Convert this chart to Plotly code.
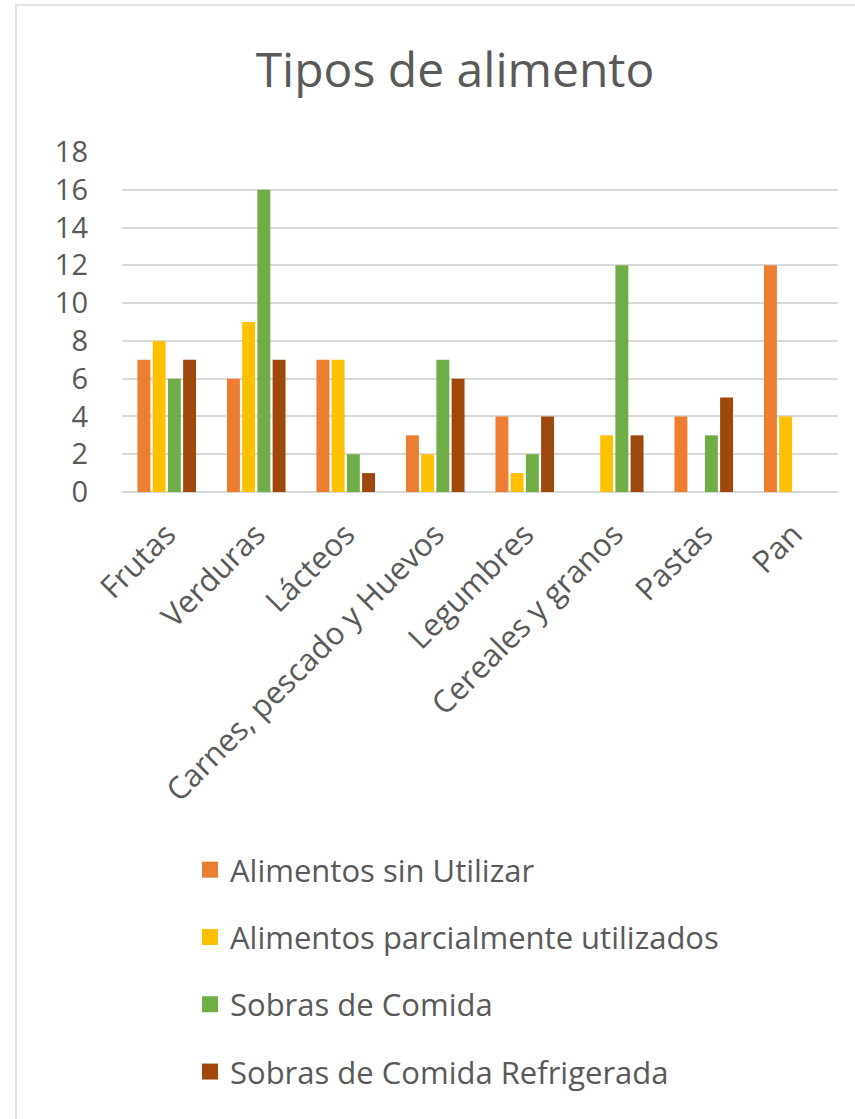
import plotly.graph_objects as go

categorias = ["Frutas", "Verduras", "Lácteos", "Carnes, pescado y Huevos",
              "Legumbres", "Cereales y granos", "Pastas", "Pan"]

series = ["Alimentos sin Utilizar", "Alimentos parcialmente utilizados",
          "Sobras de Comida", "Sobras de Comida Refrigerada"]

sin_utilizar = [7, 6, 7, 3, 4, None, 4, 12]
parcialmente = [8, 9, 7, 2, 1, 3, None, 4]
sobras = [6, 16, 2, 7, 2, 12, 3, None]
sobras_refrigeradas = [7, 7, 1, 6, 4, 3, 5, None]

colores = ["#ED7D31", "#FFC000", "#70AD47", "#9E480E"]
valores = [sin_utilizar, parcialmente, sobras, sobras_refrigeradas]

W, H = 855, 1119
L, R, T, B = 122, 17, 152, 627
FONT = "Open Sans"
GRIS = "#595959"

fig = go.Figure()

for nombre, vals, color in zip(series, valores, colores):
    fig.add_trace(go.Bar(
        x=categorias, y=vals, name=nombre,
        marker=dict(color=color, line=dict(width=0)),
        showlegend=False,
    ))

# legend entries with larger square swatches
for nombre, color in zip(series, colores):
    fig.add_trace(go.Scatter(
        x=[None], y=[None], name=nombre, mode="markers",
        marker=dict(symbol="square", size=16, color=color),
        legendgroup=nombre,
    ))

# outer chart frame
pw, ph = W - L - R, H - T - B
def px_x(v):
    return (v - L) / pw
def px_y(v):
    return (H - B - v) / ph

fig.add_shape(type="rect", xref="paper", yref="paper",
              x0=px_x(16), x1=px_x(W + 10), y0=px_y(5), y1=px_y(H + 10),
              line=dict(color="#D9D9D9", width=1.5), fillcolor="rgba(0,0,0,0)",
              layer="below")

fig.update_layout(
    width=W, height=H,
    margin=dict(l=L, r=R, t=T, b=B, autoexpand=False),
    paper_bgcolor="white", plot_bgcolor="white",
    barmode="group", bargap=0.32, bargroupgap=0.15,
    font=dict(family=FONT, color=GRIS),
    title=dict(text="Tipos de alimento", x=455 / W, xanchor="center",
               xref="container", y=1 - 70 / H, yanchor="middle", yref="container",
               font=dict(size=48, color=GRIS, family=FONT)),
    xaxis=dict(tickangle=-45, tickfont=dict(size=31, color=GRIS),
               showgrid=False, showline=False, ticks="", zeroline=False,
               ticklabelstandoff=17),
    yaxis=dict(range=[0, 18], dtick=2, tickfont=dict(size=29, color=GRIS),
               showgrid=True, gridcolor="#D9D9D9", gridwidth=1.5,
               zeroline=True, zerolinecolor="#D9D9D9", zerolinewidth=1.5,
               showline=False, ticks="", ticklabelstandoff=33),
    legend=dict(x=190 / W, xref="container", xanchor="left",
                y=1 - 843 / H, yref="container", yanchor="top",
                font=dict(size=31, color=GRIS, family=FONT),
                traceorder="grouped", tracegroupgap=24,
                itemsizing="trace", bgcolor="rgba(0,0,0,0)"),
)

fig.write_html("out.html")
